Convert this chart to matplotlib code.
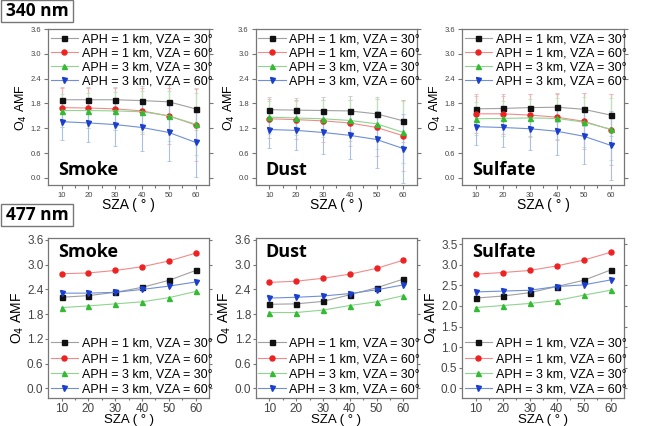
import matplotlib
matplotlib.use("Agg")
import matplotlib.pyplot as plt
from matplotlib.patches import Rectangle

sza = [10, 20, 30, 40, 50, 60]
series_labels = ["APH = 1 km, VZA = 30°", "APH = 1 km, VZA = 60°",
                 "APH = 3 km, VZA = 30°", "APH = 3 km, VZA = 60°"]
aerosols = ["Smoke", "Dust", "Sulfate"]

# 340 nm values (black, red, green, blue)
smoke_340 = [[1.89, 1.89, 1.89, 1.87, 1.84, 1.67],
             [1.70, 1.69, 1.67, 1.62, 1.50, 1.28],
             [1.63, 1.63, 1.62, 1.60, 1.50, 1.30],
             [1.36, 1.33, 1.29, 1.22, 1.10, 0.86]]
dust_340 = [[1.65, 1.64, 1.63, 1.62, 1.55, 1.38],
            [1.43, 1.41, 1.38, 1.33, 1.22, 1.02],
            [1.47, 1.45, 1.43, 1.39, 1.31, 1.10],
            [1.17, 1.15, 1.10, 1.03, 0.93, 0.71]]
sulfate_340 = [[1.67, 1.68, 1.70, 1.71, 1.66, 1.52],
               [1.55, 1.55, 1.52, 1.47, 1.37, 1.17],
               [1.43, 1.44, 1.45, 1.44, 1.35, 1.18],
               [1.24, 1.22, 1.19, 1.13, 1.01, 0.79]]
# 340 nm error bars (black, red, green, blue)
err_340 = [[0.30, 0.30, 0.32, 0.35, 0.40, 0.50],
           [0.47, 0.48, 0.50, 0.55, 0.68, 0.86],
           [0.40, 0.42, 0.45, 0.50, 0.60, 0.75],
           [0.45, 0.47, 0.52, 0.58, 0.68, 0.83]]

# 477 nm values
smoke_477 = [[2.21, 2.25, 2.33, 2.45, 2.62, 2.86],
             [2.78, 2.80, 2.86, 2.95, 3.09, 3.28],
             [1.96, 2.00, 2.05, 2.10, 2.20, 2.35],
             [2.31, 2.31, 2.33, 2.40, 2.48, 2.58]]
dust_477 = [[2.04, 2.05, 2.11, 2.27, 2.44, 2.65],
            [2.57, 2.60, 2.67, 2.77, 2.91, 3.11],
            [1.84, 1.84, 1.90, 2.01, 2.10, 2.25],
            [2.19, 2.21, 2.24, 2.30, 2.39, 2.51]]
sulfate_477 = [[2.19, 2.24, 2.32, 2.47, 2.62, 2.87],
               [2.77, 2.81, 2.86, 2.97, 3.11, 3.30],
               [1.96, 2.01, 2.06, 2.13, 2.26, 2.38],
               [2.34, 2.36, 2.38, 2.47, 2.51, 2.63]]

yticks_a = [0.0, 0.6, 1.2, 1.8, 2.4, 3.0, 3.6]
yticks_b = [0.0, 0.5, 1.0, 1.5, 2.0, 2.5, 3.0, 3.5]

marker_colors = ["#111111", "#ee2222", "#33bb33", "#1a3fcc"]
line_colors = ["#a0a0a0", "#f28a8a", "#8fd48f", "#6f8fd8"]
err_colors = ["#c8c8c8", "#f5b0b0", "#b8e6b8", "#a8bfea"]
markers = ["s", "o", "^", "v"]

plt.rcParams['font.family'] = ['Liberation Sans', 'DejaVu Sans']

fig = plt.figure(figsize=(6.55, 4.26), dpi=100)
W, H = 655.0, 426.0
lefts = [48, 255.7, 462]
widths = [161, 161, 162]


def style_axis(ax, yticks, fs, pad, tl):
    ax.set_xlim(4.9, 65)
    ax.set_xticks(sza)
    ax.set_xticks([15, 25, 35, 45, 55], minor=True)
    ax.set_yticks(yticks)
    ax.set_yticklabels([f"{v:.1f}" for v in yticks])
    for sp in ax.spines.values():
        sp.set_color("#777777")
        sp.set_linewidth(0.9)
    ax.tick_params(which="both", direction="out", colors="#777777",
                   labelcolor="#444444", labelsize=fs, width=0.8, pad=pad)
    ax.tick_params(which="major", length=tl)
    ax.tick_params(which="minor", length=tl * 0.65)
    ax.tick_params(axis="y", right=True, which="major")


def draw(ax, data, errs=None):
    for i in range(4):
        if errs is not None:
            ax.errorbar(sza, data[i], yerr=errs[i], fmt="none",
                        ecolor=err_colors[i], elinewidth=0.8, capsize=1.5,
                        capthick=0.6, zorder=1)
        ax.plot(sza, data[i], color=line_colors[i], lw=0.8,
                marker=markers[i], markersize=3.6,
                markerfacecolor=marker_colors[i],
                markeredgecolor=marker_colors[i], label=series_labels[i],
                zorder=3)


top_data = [smoke_340, dust_340, sulfate_340]
bot_data = [smoke_477, dust_477, sulfate_477]

for k in range(3):
    ax = fig.add_axes([lefts[k] / W, 1 - 185 / H, widths[k] / W, 156 / H])
    draw(ax, top_data[k], err_340)
    ax.set_ylim(-0.17, 3.6)
    style_axis(ax, yticks_a, 5.5, 2, 3)
    ax.set_ylabel("O$_4$ AMF", fontsize=9, labelpad=1)
    ax.set_xlabel("SZA ( ° )", fontsize=10, labelpad=-1)
    ax.legend(loc="upper left", bbox_to_anchor=(0.0, 0.99), frameon=False,
              fontsize=9, borderpad=0.1, borderaxespad=0.1,
              labelspacing=0.17, handlelength=2.2, handletextpad=0.3)
    ax.text(0.06, 0.04, aerosols[k], transform=ax.transAxes,
            fontsize=13, fontweight="bold", family="Open Sans",
            ha="left", va="bottom")

for k in range(3):
    ax = fig.add_axes([lefts[k] / W, 1 - 398.3 / H, widths[k] / W, 160 / H])
    draw(ax, bot_data[k])
    ax.set_ylim(-0.24, 3.64)
    style_axis(ax, yticks_b if k == 2 else yticks_a, 8.5, 0.8, 2.5)
    ax.set_ylabel("O$_4$ AMF", fontsize=10, labelpad=1)
    ax.set_xlabel("SZA ( ° )", fontsize=9.5, labelpad=-0.5)
    ax.legend(loc="lower left", bbox_to_anchor=(0.0, 0.0), frameon=False,
              fontsize=9, borderpad=0.1, borderaxespad=0.1,
              labelspacing=0.27, handlelength=2.2, handletextpad=0.3)
    ax.text(0.06, 0.97, aerosols[k], transform=ax.transAxes,
            fontsize=13, fontweight="bold", family="Open Sans",
            ha="left", va="top")

for label, ytop in [("340 nm", 0), ("477 nm", 204)]:
    fig.patches.append(Rectangle((1 / W, 1 - (ytop + 22) / H), 72 / W, 22 / H,
                                 transform=fig.transFigure, fill=False,
                                 edgecolor="#777777", lw=1.0))
    fig.text(37 / W, 1 - (ytop + 11) / H, label, ha="center", va="center",
             fontsize=12.5, fontweight="bold", family="Open Sans")

fig.savefig("out.png", dpi=100)
